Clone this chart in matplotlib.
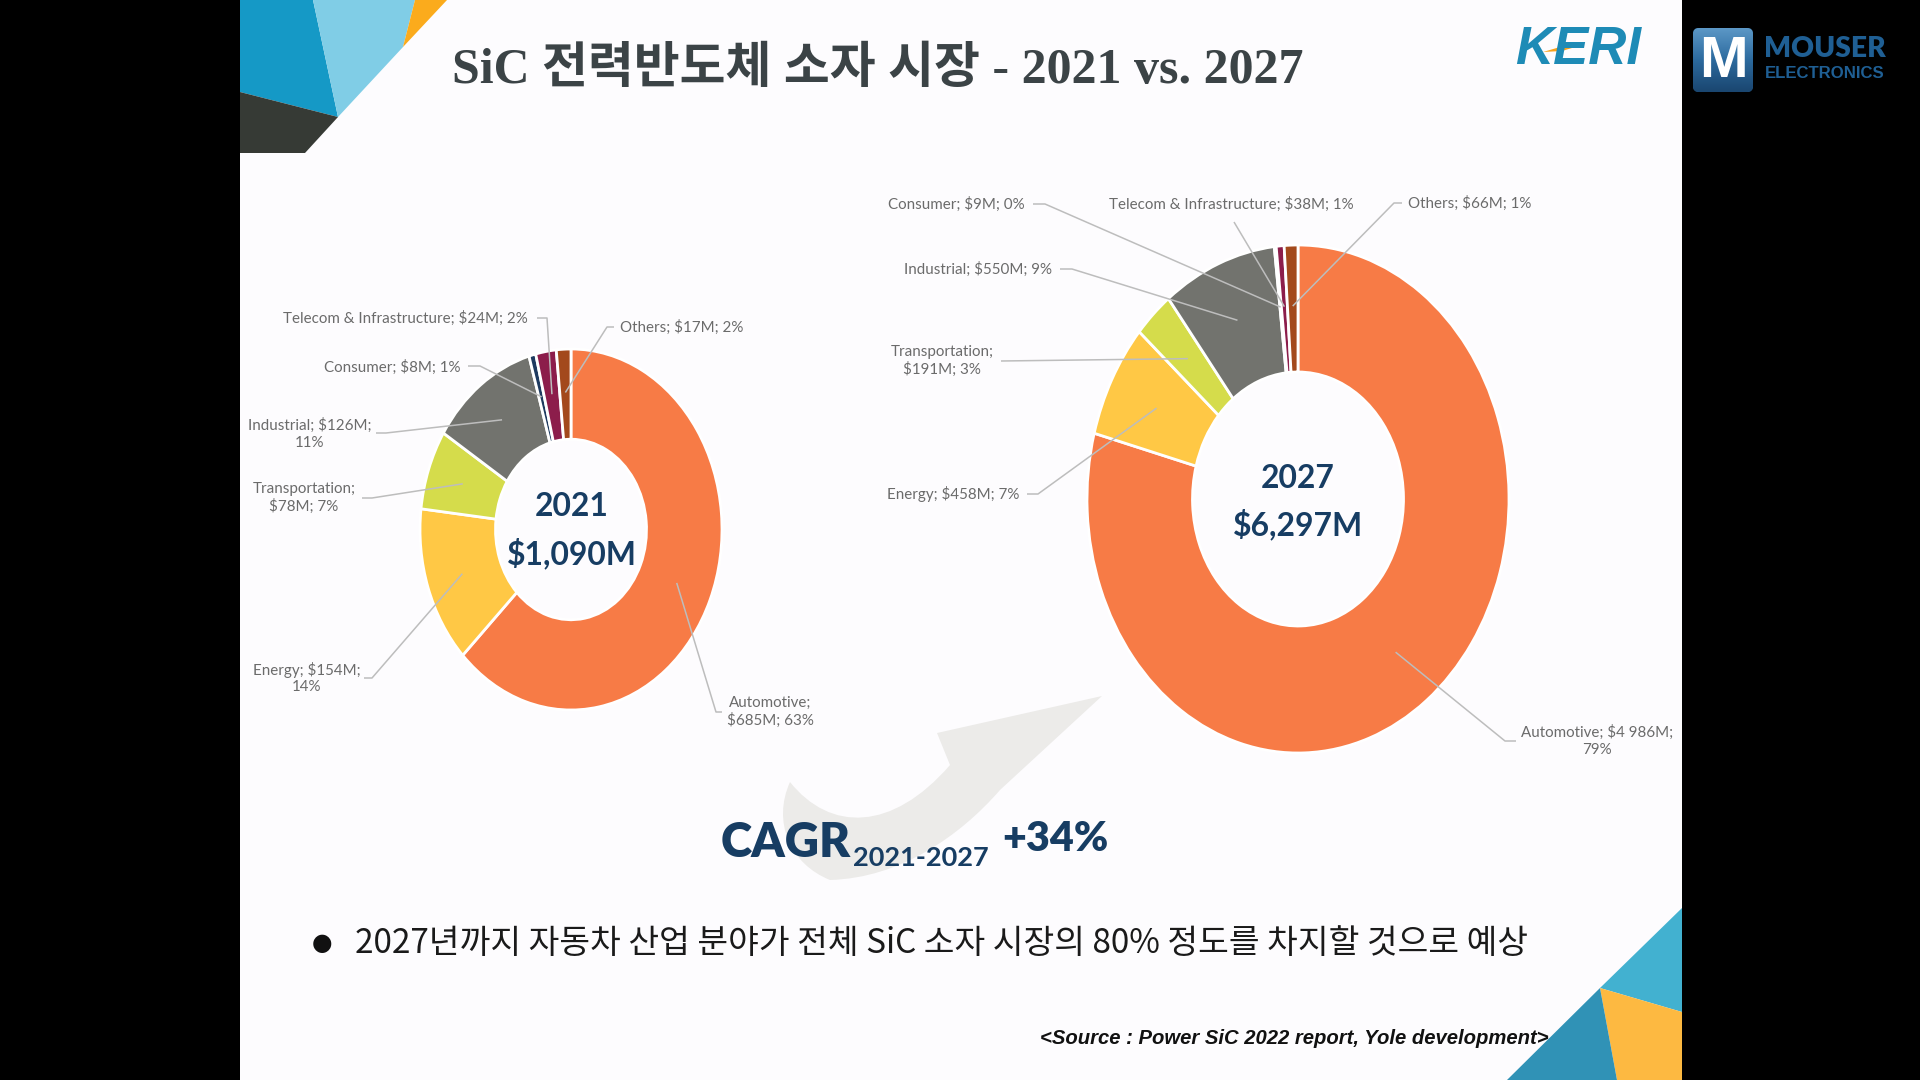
import matplotlib
matplotlib.use("Agg")
import matplotlib.pyplot as plt
import numpy as np
from matplotlib.patches import Polygon, Rectangle, PathPatch, FancyBboxPatch
from matplotlib.path import Path
from matplotlib.colors import LinearSegmentedColormap

W, H = 1920, 1080

# --- data -------------------------------------------------------------
SEGMENTS = ["Automotive", "Energy", "Transportation", "Industrial",
            "Consumer", "Telecom & Infrastructure", "Others"]
VALUES_2021 = [685, 154, 78, 126, 8, 24, 17]
VALUES_2027 = [4986, 458, 191, 550, 9, 38, 66]
LABELS_2021 = ["Automotive;\n$685M; 63%", "Energy; $154M;\n14%",
               "Transportation;\n$78M; 7%", "Industrial; $126M;\n11%",
               "Consumer; $8M; 1%", "Telecom & Infrastructure; $24M; 2%",
               "Others; $17M; 2%"]
LABELS_2027 = ["Automotive; $4 986M;\n79%", "Energy; $458M; 7%",
               "Transportation;\n$191M; 3%", "Industrial; $550M; 9%",
               "Consumer; $9M; 0%", "Telecom & Infrastructure; $38M; 1%",
               "Others; $66M; 1%"]
YEARS = ["2021", "2027"]
TOTALS = ["$1,090M", "$6,297M"]
CAGR_PERIOD = "2021-2027"
CAGR_VALUE = "+34%"
COLORS = ["#f77b46", "#ffc845", "#d5dc4b", "#72736e",
          "#1e3a5f", "#8c1d4b", "#a3491c"]

TITLE = "SiC 전력반도체 소자 시장 - 2021 vs. 2027"
BULLET = "2027년까지 자동차 산업 분야가 전체 SiC 소자 시장의 80% 정도를 차지할 것으로 예상"
SOURCE = "<Source : Power SiC 2022 report, Yole development>"

NAVY = "#173d63"
SANS = "Lato"

fig = plt.figure(figsize=(W / 100, H / 100), dpi=100)
fig.patch.set_facecolor("black")
renderer = fig.canvas.get_renderer()


def fit(t, width):
    # scale a text so it spans the same width as in the slide
    w = t.get_window_extent(renderer).width
    t.set_fontsize(t.get_fontsize() * width / w)
    return t


bg = fig.add_axes([0, 0, 1, 1], zorder=0)
bg.set_xlim(0, W)
bg.set_ylim(H, 0)
bg.axis("off")

# slide + decorations
bg.add_patch(Rectangle((240, 0), 1442, H, color="#fdfcfe", lw=0))
bg.add_patch(Polygon([(240, 0), (313, 0), (338, 117), (240, 92)], color="#1599c6", lw=0))
bg.add_patch(Polygon([(313, 0), (415, 0), (403, 47), (338, 117)], color="#80cde6", lw=0))
bg.add_patch(Polygon([(415, 0), (447, 0), (403, 47)], color="#fbab1c", lw=0))
bg.add_patch(Polygon([(240, 92), (338, 117), (305, 153), (240, 153)], color="#363a35", lw=0))
bg.add_patch(Polygon([(1682, 908), (1600, 988), (1682, 1012)], color="#42b1d0", lw=0))
bg.add_patch(Polygon([(1600, 988), (1682, 1012), (1682, 1080), (1617, 1080)], color="#fdb941", lw=0))
bg.add_patch(Polygon([(1600, 988), (1617, 1080), (1507, 1080)], color="#3092b6", lw=0))

# CAGR swoosh arrow
verts = [(790, 782),
         (772, 822), (790, 864), (830, 880),
         (900, 878), (960, 836), (1000, 790),
         (1102, 696), (937, 733), (950, 765),
         (892, 832), (830, 832), (790, 782),
         (790, 782)]
codes = [Path.MOVETO] + [Path.CURVE4] * 6 + [Path.LINETO] * 3 + [Path.CURVE4] * 3 + [Path.CLOSEPOLY]
bg.add_patch(PathPatch(Path(verts, codes), facecolor="#ecebe9", lw=0))

# title
t = bg.text(878, 71, TITLE, ha="center", va="center", fontsize=36, fontweight="bold",
            color="#3b4346", family=["Liberation Serif", "Noto Sans CJK KR"])
fit(t, 852)

# KERI logo
t = bg.text(1578, 50, "KERI", ha="center", va="center", fontsize=36, fontweight="bold",
            fontstyle="italic", color="#1e8bb6", family="Liberation Sans")
fit(t, 126)
bg.add_patch(Polygon([(1543, 52), (1560, 47), (1582, 45), (1562, 51)], color="#f7a21b", lw=0))

# Mouser logo
box = FancyBboxPatch((1693, 28), 60, 64, boxstyle="round,pad=0,rounding_size=6",
                     facecolor="#2a679b", edgecolor="none")
bg.add_patch(box)
grad = np.linspace(0, 1, 64).reshape(-1, 1)
img = bg.imshow(grad, extent=(1693, 1753, 92, 28), aspect="auto", zorder=1,
                cmap=LinearSegmentedColormap.from_list("m", ["#5b97c6", "#2c6a9e", "#1a4670"]))
img.set_clip_path(box)
bg.text(1723, 62, "M", ha="center", va="center", fontsize=42, fontweight="bold",
        color="white", family="Liberation Sans", zorder=2)
t = bg.text(1764, 49, "MOUSER", ha="left", va="center", fontsize=25, fontweight="heavy",
            color="#1f5f94", family=SANS)
fit(t, 122)
t = bg.text(1765, 73, "ELECTRONICS", ha="left", va="center", fontsize=11.5, fontweight="bold",
            color="#1f5f94", family="Liberation Sans")
fit(t, 120)

# bullet + source
bg.text(322, 943, "●", ha="center", va="center", fontsize=17, color="#111111", family="DejaVu Sans")
t = bg.text(355, 943, BULLET, ha="left", va="center", fontsize=22, color="#1a1a1a",
            family=["Noto Sans CJK KR", "DejaVu Sans"])
fit(t, 1173)
t = bg.text(1549, 1038, SOURCE, ha="right", va="center", fontsize=15, fontweight="bold",
            fontstyle="italic", color="#111111", family="Liberation Sans")
fit(t, 510)

# CAGR text
t = bg.text(721, 857, "CAGR", ha="left", va="baseline", fontsize=40, fontweight="heavy",
            color=NAVY, family=SANS)
fit(t, 130)
t = bg.text(853, 866, CAGR_PERIOD, ha="left", va="baseline", fontsize=27, fontweight="bold",
            color=NAVY, family=SANS)
fit(t, 136)
t = bg.text(1002, 851, CAGR_VALUE, ha="left", va="baseline", fontsize=40, fontweight="heavy",
            color=NAVY, family=SANS)
fit(t, 106)

# overlay for labels and leader lines
ov = fig.add_axes([0, 0, 1, 1], zorder=5)
ov.set_xlim(0, W)
ov.set_ylim(H, 0)
ov.patch.set_alpha(0)
ov.axis("off")

probe = ov.text(0, 0, LABELS_2021[5], fontsize=12, family=SANS)
fit(probe, 244)
LABEL_SIZE = probe.get_fontsize()
probe.remove()

probe = ov.text(0, 0, TOTALS[0], fontsize=30, fontweight="bold", family=SANS)
fit(probe, 130)
CENTER_SIZE = probe.get_fontsize()
probe.remove()

# label layout: (x, y, ha, elbow points) in slide pixels
LAYOUT_2021 = [
    (727, 712, "left", [(722, 712), (716, 712)]),
    (307, 678, "center", [(364, 678), (372, 678)]),
    (304, 498, "center", [(362, 498), (372, 498)]),
    (310, 434, "center", [(376, 433), (386, 433)]),
    (460, 367, "right", [(468, 366), (480, 366)]),
    (528, 318, "right", [(537, 318), (547, 318)]),
    (620, 327, "left", [(614, 327), (607, 327)]),
]
LAYOUT_2027 = [
    (1597, 741, "center", [(1516, 741), (1505, 741)]),
    (1019, 494, "right", [(1027, 494), (1038, 494)]),
    (942, 361, "center", [(1001, 361)]),
    (1052, 269, "right", [(1060, 269), (1072, 269)]),
    (1025, 204, "right", [(1033, 204), (1045, 204)]),
    (1109, 204, "left", [(1234, 222)]),
    (1408, 203, "left", [(1402, 203), (1394, 203)]),
]


def donut(bounds, values, labels, layout, year, total, center):
    x0, y0, x1, y1 = bounds
    ax = fig.add_axes([x0 / W, 1 - y1 / H, (x1 - x0) / W, (y1 - y0) / H], zorder=2)
    wedges, _ = ax.pie(values, colors=COLORS, startangle=90, counterclock=False,
                       radius=1, wedgeprops=dict(width=0.5, edgecolor="white", linewidth=2))
    ax.set_aspect("auto")
    ax.set_xlim(-1, 1)
    ax.set_ylim(-1, 1)
    ax.axis("off")

    to_ov = ov.transData.inverted()
    for w, lab, (tx, ty, ha, elbow) in zip(wedges, labels, layout):
        mid = np.deg2rad((w.theta1 + w.theta2) / 2)
        tip = to_ov.transform(ax.transData.transform((0.76 * np.cos(mid), 0.76 * np.sin(mid))))
        pts = np.array(elbow + [tuple(tip)])
        ov.plot(pts[:, 0], pts[:, 1], color="#bdbdbd", lw=1.1, solid_capstyle="butt")
        ov.text(tx, ty, lab, ha=ha, va="center", multialignment="center", linespacing=1.25,
                fontsize=LABEL_SIZE, color="#6b6b6b", family=SANS)

    cx, cy = center
    ov.text(cx, cy - 23, year, ha="center", va="center", fontsize=CENTER_SIZE, fontweight="bold",
            color=NAVY, family=SANS)
    ov.text(cx, cy + 23, total, ha="center", va="center", fontsize=CENTER_SIZE, fontweight="bold",
            color=NAVY, family=SANS)


donut((420, 349, 722, 710), VALUES_2021, LABELS_2021, LAYOUT_2021, YEARS[0], TOTALS[0], (572, 530))
donut((1087, 245, 1509, 753), VALUES_2027, LABELS_2027, LAYOUT_2027, YEARS[1], TOTALS[1], (1298, 501))

fig.savefig("out.png", dpi=100, facecolor=fig.get_facecolor())
